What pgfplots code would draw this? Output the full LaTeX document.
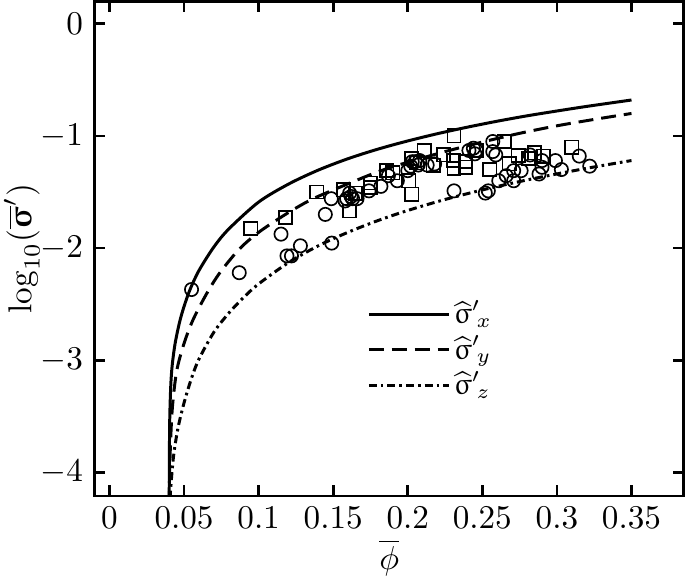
\documentclass[border=0pt]{standalone}
\usepackage{amsmath}
\usepackage{upgreek}
\usepackage{pgfplots}
\pgfplotsset{compat=1.18}
\begin{document}
\begin{tikzpicture}
\begin{axis}[
  scale only axis,
  width=177.6pt, height=149.1pt,
  xmin=-0.01, xmax=0.385,
  ymin=-4.21, ymax=0.2,
  xtick={0,0.05,0.1,0.15,0.2,0.25,0.3,0.35},
  ytick={-4,-3,-2,-1,0},
  xticklabel style={/pgf/number format/fixed,/pgf/number format/precision=2},
  tick align=inside,
  major tick length=3.2pt,
  axis line style={line width=0.8pt},
  every tick/.style={black, line width=0.8pt},
  xlabel={$\overline{\phi}$},
  ylabel={$\log_{10}(\overline{\boldsymbol{\upsigma}}')$},
  xlabel style={inner sep=0pt, yshift=0.3pt},
  ylabel style={inner sep=1.2pt},
  ylabel shift=-4.5pt,
  legend style={draw=none, fill=none, at={(0.445,0.417)}, anchor=north west, row sep=0pt, nodes={inner sep=1pt}, font=\small},
  legend cell align=left,
  legend image code/.code={\draw[#1] (0cm,0cm) -- (0.85cm,0cm);},
]
\addplot[black, line width=0.9pt, smooth] coordinates {
(0.0400,-4.30) (0.0403,-3.60) (0.041,-3.25) (0.042,-3.05) (0.044,-2.85)
(0.047,-2.66) (0.050,-2.52) (0.054,-2.37) (0.060,-2.20) (0.070,-1.99)
(0.080,-1.83) (0.100,-1.59) (0.120,-1.43) (0.140,-1.305) (0.160,-1.203)
(0.180,-1.118) (0.200,-1.045) (0.220,-0.980) (0.240,-0.922) (0.260,-0.869)
(0.280,-0.821) (0.300,-0.778) (0.320,-0.737) (0.350,-0.680)};
\addlegendentry{$\widehat{\upsigma}'{}_{\!x}$}
\addplot[black, line width=0.9pt, dash pattern=on 4.5pt off 2.4pt, smooth] coordinates {
(0.0400,-4.30) (0.0405,-3.90) (0.042,-3.45) (0.045,-3.10) (0.050,-2.85)
(0.056,-2.64) (0.065,-2.41) (0.074,-2.22) (0.087,-2.01) (0.100,-1.86)
(0.118,-1.70) (0.135,-1.57) (0.154,-1.46) (0.180,-1.32) (0.200,-1.235)
(0.225,-1.14) (0.250,-1.055) (0.274,-0.98) (0.300,-0.91) (0.325,-0.853)
(0.350,-0.80)};
\addlegendentry{$\widehat{\upsigma}'{}_{\!y}$}
\addplot[black, line width=0.9pt, dash pattern=on 2.4pt off 1.2pt on 0.8pt off 1.2pt, smooth] coordinates {
(0.0400,-4.40) (0.0410,-4.15) (0.043,-3.85) (0.046,-3.60) (0.050,-3.38)
(0.055,-3.16) (0.060,-2.99) (0.070,-2.75) (0.080,-2.58) (0.090,-2.44)
(0.100,-2.32) (0.120,-2.13) (0.140,-1.98) (0.160,-1.859) (0.180,-1.755)
(0.200,-1.665) (0.225,-1.567) (0.250,-1.482) (0.275,-1.407) (0.300,-1.339)
(0.325,-1.277) (0.350,-1.22)};
\addlegendentry{$\widehat{\upsigma}'{}_{\!z}$}
\addplot[only marks, mark=o, mark size=2.0pt, mark options={line width=0.5pt, black}, forget plot] coordinates {
(0.055,-2.37) (0.087,-2.22) (0.115,-1.876) (0.119,-2.07) (0.122,-2.07)
(0.128,-1.98) (0.1447,-1.70) (0.1487,-1.56) (0.149,-1.956) (0.158,-1.58)
(0.161,-1.51) (0.159,-1.56) (0.163,-1.56) (0.166,-1.56) (0.162,-1.54)
(0.174,-1.49) (0.182,-1.45) (0.187,-1.355) (0.193,-1.40) (0.200,-1.31)
(0.202,-1.27) (0.203,-1.23) (0.205,-1.23) (0.207,-1.26) (0.208,-1.22)
(0.213,-1.26) (0.218,-1.25) (0.231,-1.49) (0.241,-1.13) (0.244,-1.11)
(0.246,-1.13) (0.245,-1.16) (0.252,-1.51) (0.254,-1.49) (0.257,-1.05)
(0.257,-1.14) (0.259,-1.17) (0.261,-1.40) (0.266,-1.355) (0.271,-1.40)
(0.271,-1.31) (0.276,-1.31) (0.282,-1.17) (0.290,-1.22) (0.290,-1.28)
(0.288,-1.34) (0.299,-1.22) (0.303,-1.30) (0.315,-1.18) (0.322,-1.27)};
\addplot[only marks, mark=square, mark size=2.0pt, mark options={line width=0.5pt, black}, forget plot] coordinates {
(0.0947,-1.825) (0.118,-1.727) (0.139,-1.50) (0.157,-1.48) (0.161,-1.67)
(0.165,-1.51) (0.175,-1.42) (0.175,-1.46) (0.186,-1.31) (0.190,-1.33)
(0.2007,-1.40) (0.2027,-1.52) (0.2027,-1.20) (0.206,-1.24) (0.211,-1.13)
(0.217,-1.26) (0.224,-1.17) (0.2307,-1.22) (0.231,-1.29) (0.231,-1.00)
(0.2387,-1.23) (0.2387,-1.28) (0.246,-1.13) (0.255,-1.30) (0.2647,-1.05)
(0.268,-1.25) (0.274,-1.175) (0.281,-1.20) (0.285,-1.15) (0.291,-1.18)
(0.310,-1.10)};
\end{axis}
\end{tikzpicture}
\end{document}
